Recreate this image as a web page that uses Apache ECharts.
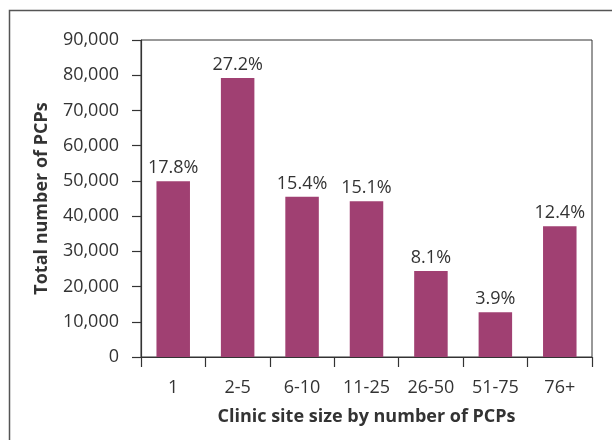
<!DOCTYPE html>
<html>
<head>
<meta charset="utf-8">
<script src="https://cdn.jsdelivr.net/npm/echarts@6/dist/echarts.min.js"></script>
<style>
  html, body { margin: 0; padding: 0; background: #fff; }
  #chart { width: 612px; height: 440px; }
</style>
</head>
<body>
<div id="chart"></div>
<script>
  // categories and values
  var siteSizes = ['1', '2-5', '6-10', '11-25', '26-50', '51-75', '76+'];
  var pcpCounts = [49900, 79200, 45500, 44200, 24400, 12700, 37100];
  var shareLabels = ['17.8%', '27.2%', '15.4%', '15.1%', '8.1%', '3.9%', '12.4%'];
  var yTicks = [0, 10000, 20000, 30000, 40000, 50000, 60000, 70000, 80000, 90000];

  var textColor = '#333';
  var lineColor = '#333';
  var fontName = 'Open Sans';

  var myChart = echarts.init(document.getElementById('chart'), null, { renderer: 'canvas' });
  myChart.setOption({
    animation: false,
    backgroundColor: '#fff',
    textStyle: { fontFamily: fontName },
    graphic: [{
      type: 'rect',
      shape: { x: 9.5, y: 10.5, width: 640, height: 460 },
      style: { fill: 'none', stroke: '#555', lineWidth: 1.5 },
      silent: true
    }],
    grid: {
      left: 141, right: 20, top: 40, bottom: 83,
      show: true, borderColor: lineColor, borderWidth: 1, backgroundColor: 'transparent'
    },
    xAxis: {
      type: 'category',
      data: siteSizes,
      name: 'Clinic site size by number of PCPs',
      nameLocation: 'middle',
      nameGap: 51,
      nameTextStyle: { color: textColor, fontSize: 18, fontWeight: 'bold', fontFamily: fontName },
      axisLine: { lineStyle: { color: lineColor, width: 1.2 } },
      axisTick: { show: true, length: 10, lineStyle: { color: lineColor, width: 1.2 } },
      axisLabel: { color: textColor, fontSize: 18, margin: 22, fontFamily: fontName }
    },
    yAxis: {
      type: 'value',
      min: yTicks[0],
      max: yTicks[yTicks.length - 1],
      interval: yTicks[1] - yTicks[0],
      name: 'Total number of PCPs',
      nameLocation: 'middle',
      nameGap: 90,
      nameTextStyle: { color: textColor, fontSize: 18, fontWeight: 'bold', fontFamily: fontName },
      axisLine: { show: true, lineStyle: { color: lineColor, width: 1.2 } },
      axisTick: { show: true, inside: false, length: 9, lineStyle: { color: lineColor, width: 1.2 } },
      splitLine: { show: false },
      axisLabel: {
        color: textColor, fontSize: 18, margin: 22, fontFamily: fontName,
        formatter: function (v) { return v.toLocaleString('en-US'); }
      }
    },
    series: [{
      type: 'bar',
      data: pcpCounts,
      barWidth: '52%',
      itemStyle: { color: '#A04072' },
      label: {
        show: true,
        position: 'top',
        distance: 4,
        color: textColor,
        fontSize: 18,
        fontFamily: fontName,
        formatter: function (p) { return shareLabels[p.dataIndex]; }
      }
    }]
  });
</script>
</body>
</html>
